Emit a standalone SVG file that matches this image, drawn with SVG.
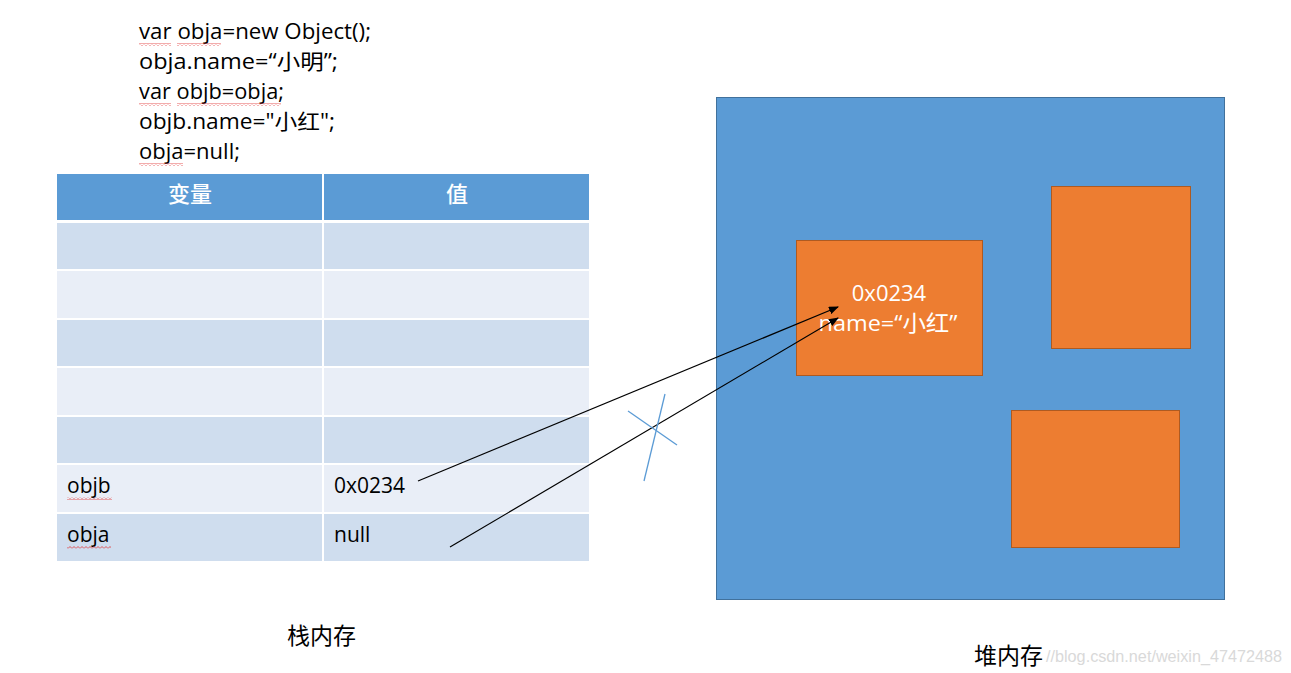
<svg xmlns="http://www.w3.org/2000/svg" width="1291" height="673" viewBox="0 0 1291 673">
<style>
.code{font-family:"Open Sans","Liberation Sans","Noto Sans CJK SC",sans-serif;font-size:21px;fill:#000}
.cell{font-family:"Open Sans","Liberation Sans","Noto Sans CJK SC",sans-serif;font-size:21px;fill:#000}
.hdr{font-family:"Noto Sans CJK SC",sans-serif;font-size:22px;font-weight:500;fill:#fff;text-anchor:middle}
.obj{font-family:"Open Sans","Liberation Sans","Noto Sans CJK SC",sans-serif;font-size:22px;fill:#fff;text-anchor:middle}
.lbl{font-family:"Noto Sans CJK SC",serif;font-size:23px;fill:#000}
.wm{font-family:"Liberation Sans",sans-serif;font-size:16px;fill:#d9d9d9}
.dark{fill:#CFDDEE}.light{fill:#E9EEF7}
.orange{fill:#ED7D31;stroke:#AE5A21;stroke-width:1}
.conn{stroke:#000;stroke-width:1.2;fill:none}
.cross{stroke:#5B9BD5;stroke-width:1.3}
.sq{fill:url(#wave)}
</style>
<defs>
<pattern id="wave" width="4" height="3" patternUnits="userSpaceOnUse">
<polyline points="0,2.5 2,0.5 4,2.5" fill="none" stroke="#e03030" stroke-width="0.8"/>
</pattern>
<marker id="arr" markerWidth="10" markerHeight="8" refX="9" refY="4" orient="auto" markerUnits="userSpaceOnUse">
<path d="M0,0 L10,4 L0,8 z" fill="#000"/>
</marker>
</defs>
<rect width="1291" height="673" fill="#fff"/>
<g id="code">
<text class="code" x="139" y="39" textLength="232" lengthAdjust="spacingAndGlyphs">var obja=new Object();</text>
<text class="code" x="139" y="69" textLength="199" lengthAdjust="spacingAndGlyphs">obja.name=“小明”;</text>
<text class="code" x="139" y="99" textLength="145" lengthAdjust="spacingAndGlyphs">var objb=obja;</text>
<text class="code" x="139" y="129" textLength="196" lengthAdjust="spacingAndGlyphs">objb.name="小红";</text>
<text class="code" x="139" y="159" textLength="101" lengthAdjust="spacingAndGlyphs">obja=null;</text>
<rect class="sq" x="139" y="43" width="32" height="3"/>
<rect class="sq" x="177" y="43" width="44" height="3"/>
<rect class="sq" x="139" y="103" width="32" height="3"/>
<rect class="sq" x="177" y="103" width="104" height="3"/>
<rect class="sq" x="139" y="163" width="44" height="3"/>
</g>
<g id="stack-table">
<rect x="57" y="174" width="265" height="46" fill="#5B9BD5"/>
<rect x="324" y="174" width="265" height="46" fill="#5B9BD5"/>
<text class="hdr" x="190" y="202">变量</text>
<text class="hdr" x="457" y="202">值</text>
<rect class="dark" x="57" y="223" width="265" height="46"/><rect class="dark" x="324" y="223" width="265" height="46"/>
<rect class="light" x="57" y="271" width="265" height="47"/><rect class="light" x="324" y="271" width="265" height="47"/>
<rect class="dark" x="57" y="320" width="265" height="46"/><rect class="dark" x="324" y="320" width="265" height="46"/>
<rect class="light" x="57" y="368" width="265" height="47"/><rect class="light" x="324" y="368" width="265" height="47"/>
<rect class="dark" x="57" y="417" width="265" height="46"/><rect class="dark" x="324" y="417" width="265" height="46"/>
<rect class="light" x="57" y="465" width="265" height="47"/><rect class="light" x="324" y="465" width="265" height="47"/>
<rect class="dark" x="57" y="514" width="265" height="47"/><rect class="dark" x="324" y="514" width="265" height="47"/>
<text class="cell" x="67" y="493">objb</text>
<text class="cell" x="334" y="493">0x0234</text>
<text class="cell" x="67" y="542">obja</text>
<text class="cell" x="334" y="542">null</text>
<rect class="sq" x="67" y="497" width="45" height="3"/>
<rect class="sq" x="67" y="546" width="44" height="3"/>
</g>
<g id="heap">
<rect x="716.5" y="97.5" width="508" height="502" fill="#5B9BD5" stroke="#41719C" stroke-width="1"/>
</g>
<g id="obj-0x0234">
<rect class="orange" x="796.5" y="240.5" width="186" height="135"/>
<text class="obj" x="889" y="301">0x0234</text>
<text class="obj" x="888" y="331" textLength="139" lengthAdjust="spacingAndGlyphs">name=“小红”</text>
</g>
<g id="obj-2"><rect class="orange" x="1051.5" y="186.5" width="139" height="162"/></g>
<g id="obj-3"><rect class="orange" x="1011.5" y="410.5" width="168" height="137"/></g>
<g id="connectors">
<line class="conn" x1="418" y1="481" x2="838" y2="307" marker-end="url(#arr)"/>
<line class="conn" x1="450" y1="547" x2="838" y2="318" marker-end="url(#arr)"/>
<line class="cross" x1="644" y1="481" x2="665" y2="394"/>
<line class="cross" x1="628" y1="411" x2="677" y2="445"/>
</g>
<g id="labels">
<text class="wm" x="1046" y="662" textLength="236" lengthAdjust="spacingAndGlyphs">//blog.csdn.net/weixin_47472488</text>
<text class="lbl" x="287" y="644">栈内存</text>
<text class="lbl" x="974" y="664">堆内存</text>
</g>
</svg>
